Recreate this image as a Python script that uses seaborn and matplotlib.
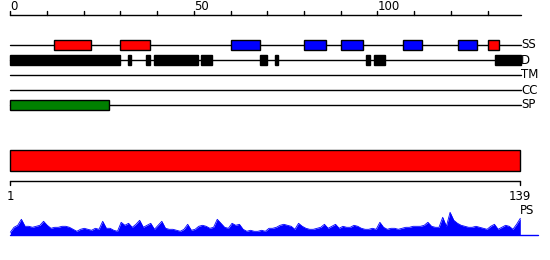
import matplotlib
matplotlib.use("Agg")
import matplotlib.pyplot as plt
import seaborn as sns
import numpy as np
import pandas as pd

# ---- data ----
length = 139
ruler_ticks = list(range(0, 140, 10))
ruler_labels = {0: "0", 50: "50", 100: "100"}

track_names = ["SS", "D", "TM", "CC", "SP"]

ss_start = [12, 30, 60, 80, 90, 107, 122, 130]
ss_end = [22, 38, 68, 86, 96, 112, 127, 133]
ss_color = ["red", "red", "blue", "blue", "blue", "blue", "blue", "red"]

d_start = [0, 32, 37, 39, 52, 68, 72, 97, 99, 132]
d_end = [30, 33, 38, 51, 55, 70, 73, 98, 102, 139]

sp_start = [0]
sp_end = [27]

domain_start = 1
domain_end = 139

ps_residue = list(range(1, 140))
ps_value = [3, 8, 10, 16, 9, 9, 8, 9, 10, 14,
            10, 7, 8, 8, 9, 9, 8, 6, 4, 6,
            7, 6, 5, 7, 6, 14, 7, 7, 5, 4,
            13, 10, 12, 8, 11, 15, 8, 10, 12, 6,
            10, 14, 7, 6, 6, 5, 4, 6, 11, 5,
            6, 9, 10, 9, 7, 8, 16, 12, 8, 7,
            12, 10, 11, 6, 4, 5, 4, 4, 5, 4,
            7, 7, 8, 10, 11, 10, 9, 6, 12, 9,
            7, 6, 6, 7, 8, 11, 7, 9, 11, 7,
            9, 8, 8, 10, 9, 7, 6, 6, 7, 6,
            13, 8, 6, 7, 7, 6, 7, 8, 8, 9,
            9, 9, 10, 13, 9, 8, 8, 18, 9, 23,
            15, 12, 10, 9, 8, 8, 9, 8, 7, 6,
            9, 11, 6, 8, 10, 9, 6, 11, 17]

# ---- figure ----
sns.set_theme(style="white")
plt.rcParams["font.family"] = ["DejaVu Sans"]
plt.rcParams["text.color"] = "black"
W, H = 550, 260
fig = plt.figure(figsize=(W / 100, H / 100), dpi=100)
FS = 8.5

# top panel: ruler units (0..139) map to px 10.3..520.7
sx = (520.7 - 10.3) / 139
ax = fig.add_axes([0, 0, 1, 1])
ax.set_xlim(-10.3 / sx, (W - 10.3) / sx)
ax.set_ylim(H, 0)
ax.axis("off")

# ruler
ax.plot([0, length], [15, 15], color="black", lw=1)
for t in ruler_ticks:
    ax.plot([t, t], [11, 15], color="black", lw=1)
    if t in ruler_labels:
        ax.text(t, 10.5, ruler_labels[t], ha="left", va="baseline",
                fontsize=FS, color="black")

row_y = {"SS": 45, "D": 60, "TM": 75, "CC": 90, "SP": 105}
for name in track_names:
    y = row_y[name]
    ax.plot([0, length], [y, y], color="black", lw=1, zorder=1)
    ax.text(length + 0.05, y, name, ha="left", va="center",
            fontsize=FS, color="black")

ax.barh([row_y["SS"]] * len(ss_start), np.array(ss_end) - np.array(ss_start),
        left=ss_start, height=10.5, color=ss_color, edgecolor="black", lw=1, zorder=2)
ax.barh([row_y["D"]] * len(d_start), np.array(d_end) - np.array(d_start),
        left=d_start, height=10.5, color="black", edgecolor="black", lw=1, zorder=2)
ax.barh([row_y["SP"]] * len(sp_start), np.array(sp_end) - np.array(sp_start),
        left=sp_start, height=10, color="green", edgecolor="black", lw=1, zorder=2)

# bottom panel: residues 1..139 map to px 10.3..520.3
bx = (520.3 - 10.3) / 138
ax2 = fig.add_axes([0, 0, 1, 1])
ax2.set_xlim(1 - 10.3 / bx, 1 + (W - 10.3) / bx)
ax2.set_ylim(H, 0)
ax2.axis("off")
ax2.patch.set_alpha(0)

ax2.barh([160.3], [domain_end - domain_start], left=domain_start, height=20.5,
         color="red", edgecolor="black", lw=1)
ax2.plot([domain_start, domain_end], [180.7, 180.7], color="black", lw=1)
for t in (domain_start, domain_end):
    ax2.plot([t, t], [180.7, 185], color="black", lw=1)
    ax2.text(t, 196, str(t), ha="center", va="center", fontsize=FS, color="black")
ax2.text(domain_end + 1.8, 211, "PS", ha="center", va="center",
         fontsize=FS, color="black")

base = 235.3
df = pd.DataFrame({"res": ps_residue, "val": ps_value})
top = base - df["val"].to_numpy()
ax2.fill_between(df["res"], top, base, color="blue", lw=0)
sns.lineplot(x=df["res"], y=top, ax=ax2, color="blue", lw=0.6)
ax2.plot([domain_start, domain_end + 4.8], [base, base], color="blue", lw=1)

fig.savefig("out.png", dpi=100)
